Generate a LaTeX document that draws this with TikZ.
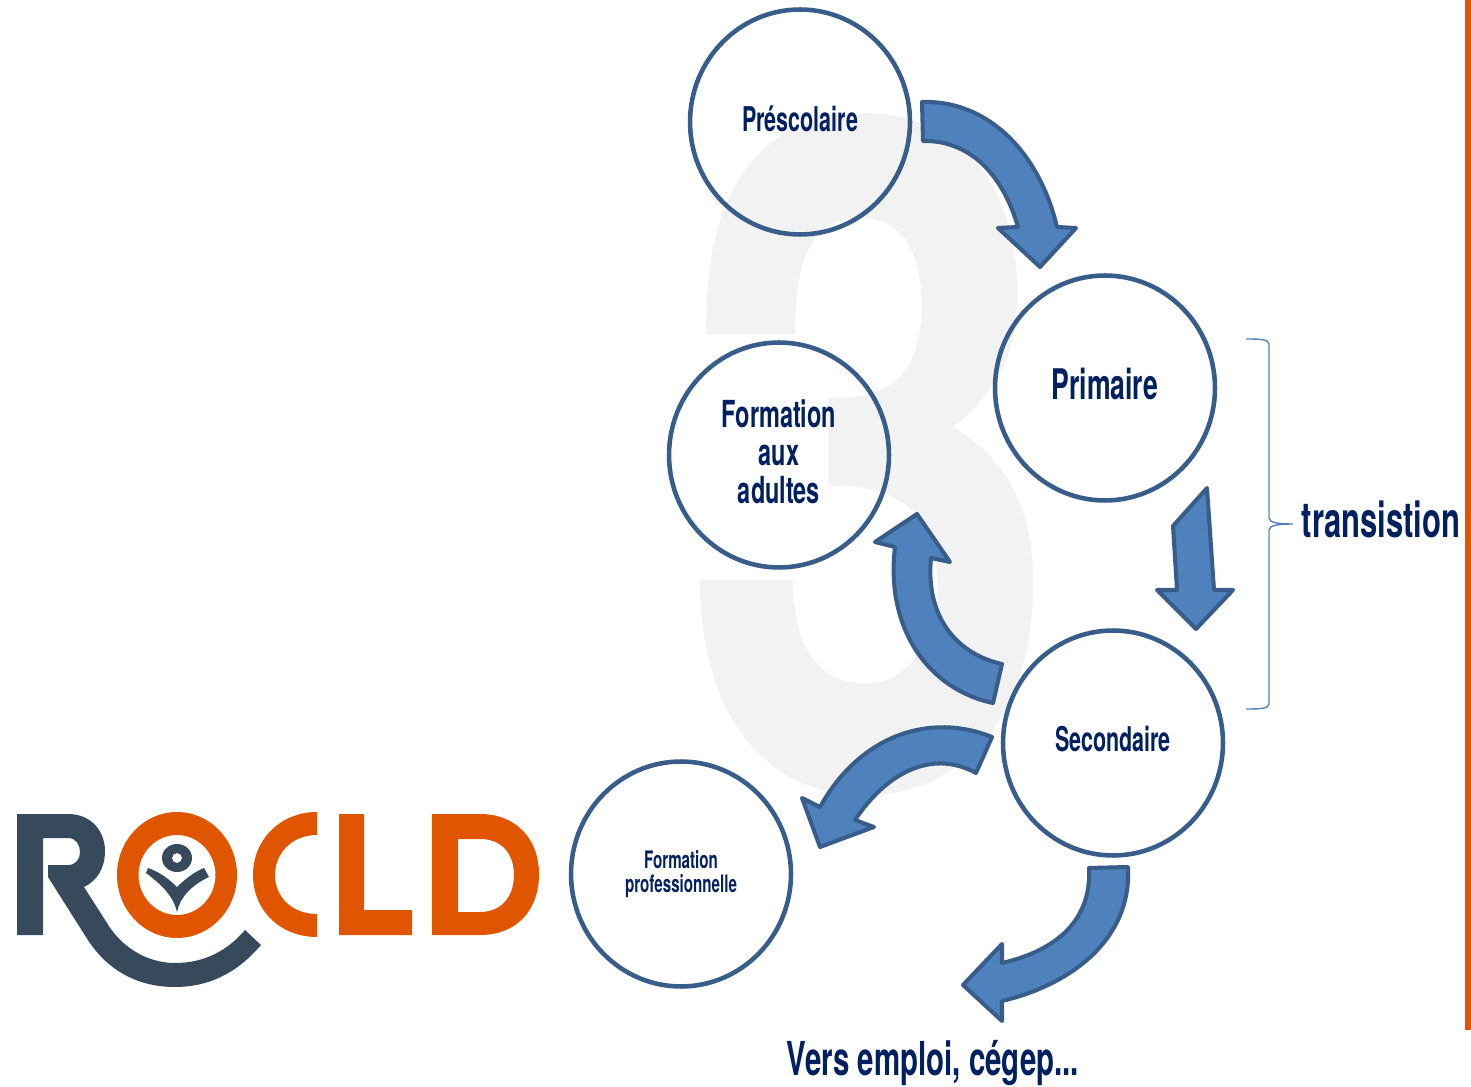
\documentclass[tikz,border=0pt]{standalone}
\usepackage{fontspec}
\setmainfont[FakeStretch=0.63]{TeX Gyre Heros}
\newfontfamily\numeralfont[FakeStretch=0.735]{TeX Gyre Heros}
\usetikzlibrary{shapes.geometric}

\definecolor{navytext}{HTML}{002060}
\definecolor{ringblue}{HTML}{385D8A}
\definecolor{arrowblue}{HTML}{4F81BD}
\definecolor{logoorange}{HTML}{E05500}
\definecolor{logoslate}{HTML}{364A5C}
\definecolor{watermark}{HTML}{F2F2F2}

\tikzset{
    stage/.style={draw=ringblue, line width=2.6pt, ellipse, minimum width=4.4cm, minimum height=4.5cm,
        inner sep=0pt, text=navytext, align=center, font=\bfseries},
    blockarrow/.style={draw=ringblue, fill=arrowblue, line width=2.3pt, line join=round},
    caption/.style={text=navytext, font=\bfseries, inner sep=0pt}
}

\begin{document}
\begin{tikzpicture}[x=0.02cm, y=-0.02cm]
    \useasboundingbox (0,0) rectangle (1471,1087);

    % Watermark behind everything
    \node[text=watermark, inner sep=0pt, font=\numeralfont\bfseries\fontsize{530}{530}\selectfont] (bigthree) at (871,455) {3};

    % Side bar
    \fill[logoorange] (1465,0) rectangle (1471,1030);

    % Stages
    \node[stage, text depth=3.4pt, font=\bfseries\fontsize{19.4}{23}\selectfont] (prescolaire) at (800,122) {Préscolaire};
    \node[stage, text depth=4.6pt, font=\bfseries\fontsize{24}{28}\selectfont] (primaire) at (1105,388) {Primaire};
    \node[stage, text depth=4pt, font=\bfseries\fontsize{21.2}{21.5}\selectfont] (adultes) at (779,455) {Formation\\aux\\adultes};
    \node[stage, text depth=4.6pt, font=\bfseries\fontsize{19.4}{23}\selectfont] (secondaire) at (1113,743) {Secondaire};
    \node[stage, font=\bfseries\fontsize{13.7}{13.7}\selectfont] (professionnelle) at (681,874) {Formation\\professionnelle};

    % Block arrows
    \draw[blockarrow] (922,102) .. controls (990,100) and (1040,155) .. (1057,227) -- (1076,228)
        -- (1040,267) -- (998,228) -- (1018,227) .. controls (1003,175) and (970,140) .. (923,141) -- cycle;
    \draw[blockarrow] (1207,488) -- (1173,526) -- (1177,590) -- (1157,590) -- (1196,629)
        -- (1233,590) -- (1214,590) -- cycle;
    \draw[blockarrow] (1002,664) .. controls (960,655) and (925,620) .. (931,558) -- (950,562)
        -- (917,514) -- (875,542) -- (895,547) .. controls (885,630) and (930,690) .. (993,703) -- cycle;
    \draw[blockarrow] (992,737) .. controls (930,712) and (860,735) .. (820,807) -- (802,798)
        -- (820,847) -- (874,827) -- (855,820) .. controls (885,775) and (930,748) .. (976,773) -- cycle;
    \draw[blockarrow] (1128,867) .. controls (1132,940) and (1070,985) .. (1002,1001) -- (1002,1021)
        -- (963,985) -- (1002,944) -- (1002,963) .. controls (1050,952) and (1092,925) .. (1089,868) -- cycle;

    % Brace and captions
    \draw[arrowblue, line width=0.8pt] (1246,339) .. controls (1258,339) and (1269,339) .. (1269,344) -- (1269,518)
        .. controls (1269,523) and (1280,524) .. (1293,524) .. controls (1280,524) and (1269,525) .. (1269,530)
        -- (1269,704) .. controls (1269,709) and (1258,709) .. (1246,709);
    \node[caption, font=\bfseries\fontsize{28}{32}\selectfont] (transistion) at (1381,519) {transistion};
    \node[caption, font=\bfseries\fontsize{26.6}{30}\selectfont] (emploi) at (933,1063) {Vers emploi, cégep...};

    % Logo
    \fill[logoslate] (17,814) -- (68,814) .. controls (92,814) and (105,832) .. (105,851)
        .. controls (105,868) and (97,881) .. (84,887) -- (107,923) .. controls (120,945) and (145,963) .. (175,963)
        .. controls (205,963) and (228,950) .. (245,930) -- (261,945) .. controls (238,972) and (210,987) .. (175,987)
        .. controls (135,987) and (105,968) .. (86,937) -- (48,877) -- (48,865) -- (68,865)
        .. controls (76,865) and (80,859) .. (80,852) .. controls (80,845) and (76,838) .. (68,838)
        -- (43,838) -- (43,935) -- (17,935) -- cycle;
    \fill[logoorange, even odd rule] (177,875) ellipse [x radius=60, y radius=63]
        (177,875) ellipse [x radius=38.5, y radius=40];
    \fill[logoslate, even odd rule] (177,858) ellipse [x radius=15, y radius=14] (177,858) circle [radius=5];
    \fill[logoslate] (146,873) -- (148,868) .. controls (160,872) and (170,880) .. (177,887)
        .. controls (184,880) and (194,872) .. (204,868) -- (209,877) .. controls (192,885) and (180,897) .. (177,912)
        .. controls (174,897) and (162,885) .. (146,873) -- cycle;
    \fill[logoorange] (317,812) .. controls (280,812) and (253,840) .. (253,875)
        .. controls (253,910) and (280,937) .. (317,937) -- (317,914)
        .. controls (292,914) and (275,897) .. (275,875) .. controls (275,853) and (292,835) .. (317,835) -- cycle;
    \fill[logoorange] (339,814) -- (364,814) -- (364,910) -- (412,910) -- (412,935) -- (339,935) -- cycle;
    \fill[logoorange, even odd rule] (432,814) -- (480,814) .. controls (517,814) and (539,840) .. (539,874)
        .. controls (539,910) and (517,935) .. (480,935) -- (432,935) -- cycle
        (458,839) -- (458,912) -- (480,912) .. controls (502,912) and (514,896) .. (514,875)
        .. controls (514,854) and (502,839) .. (480,839) -- cycle;
\end{tikzpicture}
\end{document}
